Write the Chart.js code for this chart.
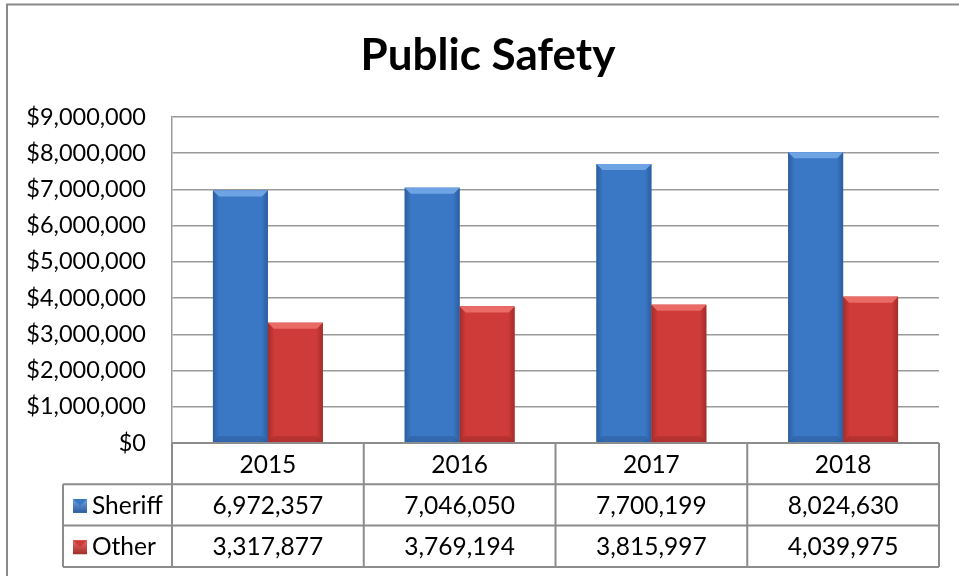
<!DOCTYPE html>
<html>
<head>
<meta charset="utf-8">
<script src="https://cdn.jsdelivr.net/npm/chart.js@4.4.1/dist/chart.umd.min.js"></script>
<style>
  body { margin: 0; background: #fff; }
  #wrap { width: 959px; height: 576px; }
</style>
</head>
<body>
<div id="wrap"><canvas id="chart" width="959" height="576"></canvas></div>
<script>
// data
const years = ["2015", "2016", "2017", "2018"];
const sheriff = [6972357, 7046050, 7700199, 8024630];
const other = [3317877, 3769194, 3815997, 4039975];
const seriesNames = ["Sheriff", "Other"];
const yTicks = [0, 1000000, 2000000, 3000000, 4000000, 5000000, 6000000, 7000000, 8000000, 9000000];

const FONT = "Lato, 'Open Sans', sans-serif";
const GRAY = "#9a9a9a";
const BLUE = { main: "#3a78c6", dark: "#2c5d9e", light: "#6fa4e4" };
const RED = { main: "#cf3b38", dark: "#a32d2b", light: "#ea6b66" };
const colors = [BLUE, RED];

const fmt = (v) => v.toLocaleString("en-US");

// outer frame + title
const framePlugin = {
  id: "frame",
  beforeDraw(chart) {
    const ctx = chart.ctx;
    ctx.save();
    ctx.fillStyle = "#fff";
    ctx.fillRect(0, 0, chart.width, chart.height);
    ctx.strokeStyle = "#8a8a8a";
    ctx.lineWidth = 2;
    ctx.beginPath();
    ctx.moveTo(7, chart.height);
    ctx.lineTo(7, 4.5);
    ctx.lineTo(chart.width, 4.5);
    ctx.stroke();
    ctx.fillStyle = "#000";
    ctx.font = "bold 44px " + FONT;
    ctx.textAlign = "center";
    ctx.textBaseline = "alphabetic";
    ctx.fillText("Public Safety", 488, 70);
    ctx.restore();
  }
};

// bevel on bars
const bevelPlugin = {
  id: "bevel",
  afterDatasetsDraw(chart) {
    const ctx = chart.ctx;
    chart.data.datasets.forEach((ds, di) => {
      const c = colors[di];
      chart.getDatasetMeta(di).data.forEach((bar) => {
        const { x, y, base, width } = bar.getProps(["x", "y", "base", "width"], true);
        const l = x - width / 2, r = x + width / 2, b = 6;
        ctx.save();
        // body gradient
        const g = ctx.createLinearGradient(l, 0, r, 0);
        g.addColorStop(0, c.dark);
        g.addColorStop(0.12, c.main);
        g.addColorStop(0.88, c.main);
        g.addColorStop(1, c.dark);
        ctx.fillStyle = g;
        ctx.fillRect(l, y, width, base - y);
        // top bevel
        ctx.fillStyle = c.light;
        ctx.beginPath();
        ctx.moveTo(l, y);
        ctx.lineTo(r, y);
        ctx.lineTo(r - b, y + b);
        ctx.lineTo(l + b, y + b);
        ctx.closePath();
        ctx.fill();
        // bottom shade
        ctx.fillStyle = c.dark;
        ctx.globalAlpha = 0.6;
        ctx.beginPath();
        ctx.moveTo(l, base);
        ctx.lineTo(r, base);
        ctx.lineTo(r - b, base - b);
        ctx.lineTo(l + b, base - b);
        ctx.closePath();
        ctx.fill();
        ctx.restore();
      });
    });
  }
};

// data table under the plot
const tablePlugin = {
  id: "dataTable",
  afterDraw(chart) {
    const ctx = chart.ctx;
    const xs = chart.scales.x;
    const top = chart.chartArea.bottom;
    const rowH = 41.3;
    const colW = (xs.right - xs.left) / years.length;
    const labelLeft = 63;
    ctx.save();
    ctx.strokeStyle = "#8c8c8c";
    ctx.lineWidth = 2;
    ctx.beginPath();
    // header row
    ctx.moveTo(xs.left, top);
    ctx.lineTo(xs.right, top);
    for (let i = 0; i <= years.length; i++) {
      const px = xs.left + i * colW;
      ctx.moveTo(px, top);
      ctx.lineTo(px, top + rowH * 3);
    }
    for (let r = 1; r <= 3; r++) {
      ctx.moveTo(labelLeft, top + rowH * r);
      ctx.lineTo(xs.right, top + rowH * r);
    }
    ctx.moveTo(labelLeft, top + rowH);
    ctx.lineTo(labelLeft, top + rowH * 3);
    ctx.stroke();

    ctx.fillStyle = "#000";
    ctx.font = "24.5px " + FONT;
    ctx.textAlign = "center";
    ctx.textBaseline = "middle";
    years.forEach((yr, i) => {
      ctx.fillText(yr, xs.getPixelForValue(i), top + rowH / 2 + 1);
    });
    const rows = [sheriff, other];
    rows.forEach((vals, r) => {
      const cy = top + rowH * (r + 1.5) + 1;
      vals.forEach((v, i) => {
        ctx.fillText(fmt(v), xs.getPixelForValue(i), cy);
      });
      // legend key
      const c = colors[r];
      const g = ctx.createLinearGradient(0, cy - 7, 0, cy + 7);
      g.addColorStop(0, c.light);
      g.addColorStop(1, c.dark);
      ctx.fillStyle = g;
      ctx.fillRect(73, cy - 7, 14, 14);
      ctx.fillStyle = c.main;
      ctx.beginPath();
      ctx.moveTo(73, cy - 7);
      ctx.lineTo(87, cy - 7);
      ctx.lineTo(80, cy);
      ctx.closePath();
      ctx.fill();
      ctx.fillStyle = "#000";
      ctx.textAlign = "left";
      ctx.fillText(seriesNames[r], 92, cy);
      ctx.textAlign = "center";
    });
    ctx.restore();
  }
};

Chart.defaults.font.family = FONT;
Chart.defaults.color = "#000";

new Chart(document.getElementById("chart"), {
  type: "bar",
  data: {
    labels: years,
    datasets: [
      { label: seriesNames[0], data: sheriff, backgroundColor: BLUE.main },
      { label: seriesNames[1], data: other, backgroundColor: RED.main }
    ]
  },
  options: {
    responsive: false,
    animation: false,
    layout: { padding: { top: 117, right: 20, bottom: 133, left: 0 } },
    datasets: { bar: { categoryPercentage: 0.573, barPercentage: 1.0 } },
    plugins: { legend: { display: false }, tooltip: { enabled: false }, title: { display: false } },
    scales: {
      x: { display: false },
      y: {
        min: 0,
        max: 9000000,
        afterBuildTicks(scale) { scale.ticks = yTicks.map((v) => ({ value: v })); },
        afterFit(scale) { scale.width = 172; },
        ticks: {
          font: { size: 23.5 },
          padding: 26,
          callback: (v) => "$" + fmt(v)
        },
        grid: { color: GRAY, lineWidth: 1.5, drawTicks: false },
        border: { display: true, color: GRAY, width: 1.5 }
      }
    }
  },
  plugins: [framePlugin, bevelPlugin, tablePlugin]
});
</script>
</body>
</html>
